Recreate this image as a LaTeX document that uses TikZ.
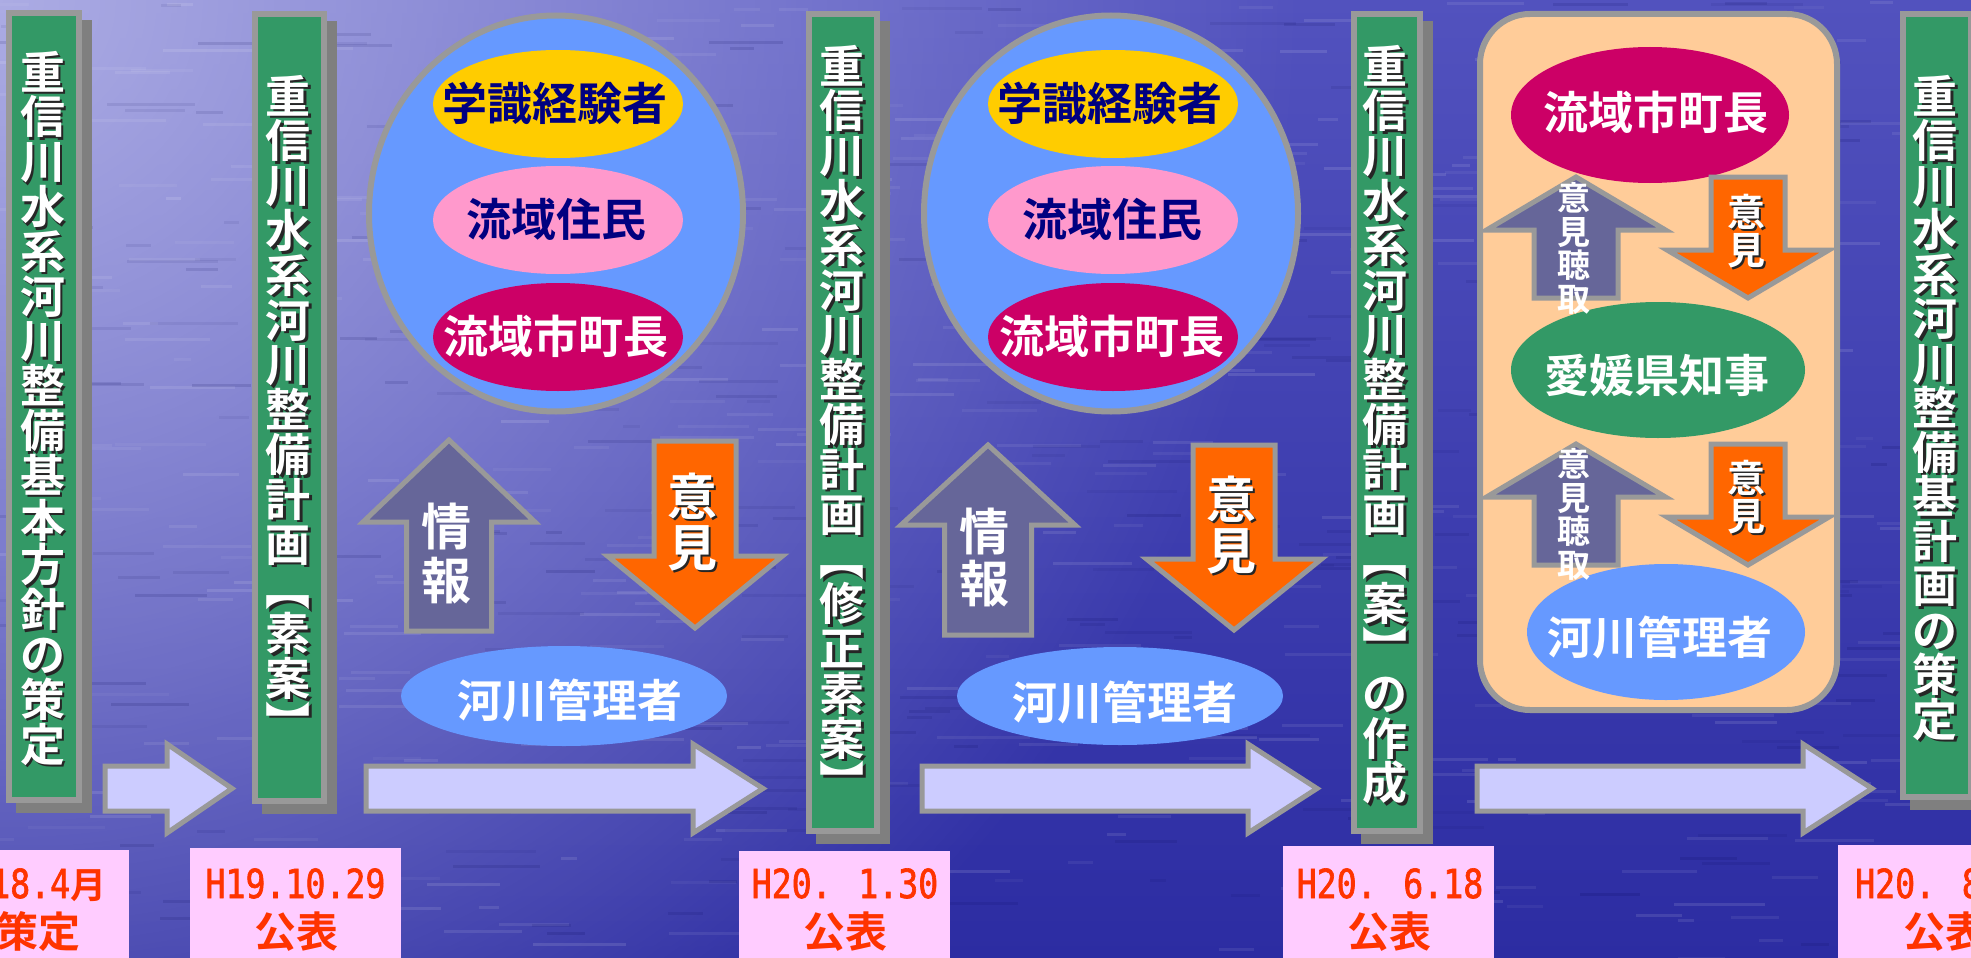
\documentclass[tikz,border=0pt]{standalone}
\usepackage{fontspec}
\newfontfamily\jp{Noto Sans CJK JP}[BoldFont={Noto Sans CJK JP Bold}]
\newfontfamily\monof{DejaVu Sans Mono}[FakeStretch=0.83,FakeBold=1.6]
\usetikzlibrary{shapes.geometric,fadings}

\definecolor{bggreen}{HTML}{339966}
\definecolor{bordergray}{HTML}{999999}
\definecolor{shadowgray}{HTML}{7F7F7F}
\definecolor{skyblue}{HTML}{6699FF}
\definecolor{goldc}{HTML}{FFCC00}
\definecolor{pinkc}{HTML}{FF99CC}
\definecolor{magentac}{HTML}{CC0066}
\definecolor{navyc}{HTML}{000080}
\definecolor{slatec}{HTML}{666699}
\definecolor{orangec}{HTML}{FF6600}
\definecolor{lavenderc}{HTML}{CCCCFF}
\definecolor{pinkbox}{HTML}{FFCCFF}
\definecolor{redtext}{HTML}{FF3300}
\definecolor{peachc}{HTML}{FFCC99}
\definecolor{bgtop}{HTML}{5252BE}
\definecolor{bgbot}{HTML}{2C2CA2}
\definecolor{bglight}{HTML}{ACACE4}

\tikzfading[name=tlfade, inner color=transparent!0, outer color=transparent!100]

\newcommand\jpb[1]{\jp\bfseries\fontsize{#1}{#1}\selectfont}

% vertical text: #1 name, #2 x, #3 y of first char centre, #4 pitch, #5 size, #6 shadow (1/0), #7 chars
\newcommand\vtxt[7]{%
  \foreach \ch [count=\i] in {#7}{%
    \ifnum#6=1
      \node[anchor=base, inner sep=0pt, text=black!85, font=\jpb{#5}] (#1s\i) at ({#2+2.5},{#3+(\i-1)*#4+0.38*#5+2.5}) {\ch};
    \fi
    \node[anchor=base, inner sep=0pt, text=white, font=\jpb{#5}] (#1c\i) at ({#2},{#3+(\i-1)*#4+0.38*#5}) {\ch};
  }}

% vertical block arrow: #1 style, #2 xc, #3 tip y, #4 head base y, #5 head half width, #6 shaft half width, #7 tail y
\newcommand\blockv[7]{%
  \draw[#1] (#2,#3) -- ({#2+#5},#4) -- ({#2+#6},#4) -- ({#2+#6},#7) -- ({#2-#6},#7) -- ({#2-#6},#4) -- ({#2-#5},#4) -- cycle;}

% horizontal block arrow: #1 style, #2 tail x, #3 head base x, #4 tip x, #5 shaft top, #6 shaft bottom, #7 head top, #8 head bottom
\newcommand\blockh[8]{%
  \draw[#1] (#2,#5) -- (#3,#5) -- (#3,#7) -- (#4,{(#7+#8)/2}) -- (#3,#8) -- (#3,#6) -- (#2,#6) -- cycle;}

\begin{document}
\begin{tikzpicture}[x=1pt,y=-1pt,
  barbox/.style={fill=bggreen, draw=bordergray, line width=6pt, inner sep=0pt},
  barshade/.style={fill=shadowgray, inner sep=0pt},
  harr/.style={fill=lavenderc, draw=bordergray, line width=5pt, line join=miter},
  uparr/.style={fill=slatec, draw=bordergray, line width=5pt, line join=miter},
  dnarr/.style={fill=orangec, draw=bordergray, line width=5pt, line join=miter},
  bigcirc/.style={ellipse, fill=skyblue, draw=bordergray, line width=6pt, inner sep=0pt},
  oval/.style={ellipse, inner sep=0pt},
  navytxt/.style={anchor=base, inner sep=0pt, text=navyc, font=\jpb{45}},
  whitetxt/.style={anchor=base, inner sep=0pt, text=white, font=\jpb{45}},
  datebox/.style={fill=pinkbox, inner sep=0pt},
  datetxt/.style={inner sep=0pt, text=redtext, font=\monof\fontsize{40}{40}\selectfont},
  datelbl/.style={anchor=base, inner sep=0pt, text=redtext, font=\jpb{42}}
]
\useasboundingbox (0,0) rectangle (1971,958);
\clip (0,0) rectangle (1971,958);

% ---------- background ----------
\shade[top color=bgtop, bottom color=bgbot] (0,0) rectangle (1971,958);
\fill[bglight, path fading=tlfade] (0,0) circle (1300);
\pgfmathsetseed{11}
\foreach \k in {1,...,420}{
  \pgfmathsetmacro\xx{rnd*2000-30}
  \pgfmathsetmacro\yy{rnd*958}
  \pgfmathsetmacro\ww{15+rnd*80}
  \pgfmathsetmacro\op{0.04+0.08*rnd}
  \fill[white, opacity=\op] (\xx,\yy) rectangle ++(\ww,3);
}
\foreach \k in {1,...,300}{
  \pgfmathsetmacro\xx{rnd*2000-30}
  \pgfmathsetmacro\yy{rnd*958}
  \pgfmathsetmacro\ww{15+rnd*80}
  \pgfmathsetmacro\op{0.05+0.08*rnd}
  \fill[black!70!blue, opacity=\op] (\xx,\yy) rectangle ++(\ww,3);
}

% ---------- vertical bars ----------
\node[barshade, minimum width=76, minimum height=793] (b1sh) at (54,416.5) {};
\node[barbox, minimum width=70, minimum height=787] (b1) at (44,406.5) {};
\node[barshade, minimum width=75, minimum height=793] (b2sh) at (299.5,417.5) {};
\node[barbox, minimum width=69, minimum height=787] (b2) at (289.5,407.5) {};
\node[barshade, minimum width=74, minimum height=823] (b3sh) at (853,432.5) {};
\node[barbox, minimum width=68, minimum height=817] (b3) at (843,422.5) {};
\node[barshade, minimum width=72, minimum height=823] (b4sh) at (1397,432.5) {};
\node[barbox, minimum width=66, minimum height=817] (b4) at (1387,422.5) {};
\node[barshade, minimum width=74, minimum height=789] (b5sh) at (1947,415.5) {};
\node[barbox, minimum width=68, minimum height=783] (b5) at (1937,405.5) {};

\vtxt{t1}{43}{72}{44.8}{45}{1}{重,信,川,水,系,河,川,整,備,基,本,方,針,の,策,定}
\vtxt{t2}{288}{96}{44.8}{45}{1}{重,信,川,水,系,河,川,整,備,計,画,︻,素,案,︼}
\vtxt{t3}{842}{66}{44.8}{45}{1}{重,信,川,水,系,河,川,整,備,計,画,︻,修,正,素,案,︼}
\vtxt{t4}{1385}{66}{44.8}{45}{1}{重,信,川,水,系,河,川,整,備,計,画,︻,案,︼,の,作,成}
\vtxt{t5}{1935}{96}{44.5}{45}{1}{重,信,川,水,系,河,川,整,備,基,計,画,の,策,定}

% ---------- horizontal progress arrows ----------
\blockh{harr}{105}{167}{232}{766}{811}{744}{833}
\blockh{harr}{366}{693}{763}{766}{811}{744}{833}
\blockh{harr}{922}{1248}{1317}{766}{811}{744}{833}
\blockh{harr}{1477}{1803}{1872}{766}{811}{744}{833}

% ---------- group 1 ----------
\node[bigcirc, minimum width=374, minimum height=396] (c1) at (556,213.5) {};
\node[oval, fill=goldc, minimum width=250, minimum height=108] (c1a) at (558,104) {};
\node[oval, fill=pinkc, minimum width=250, minimum height=108] (c1b) at (558,220) {};
\node[oval, fill=magentac, minimum width=250, minimum height=108] (c1c) at (558,337) {};
\node[navytxt] (c1at) at (555,120) {学識経験者};
\node[navytxt] (c1bt) at (556,236) {流域住民};
\node[whitetxt] (c1ct) at (556,353) {流域市町長};

\blockv{uparr}{449}{440}{522}{86}{42.5}{631}
\vtxt{u1}{446}{526}{54}{50}{0}{情,報}
\blockv{dnarr}{695}{628}{556}{87.5}{41}{441}
\vtxt{d1}{692}{496}{51}{50}{1}{意,見}

\node[oval, fill=skyblue, minimum width=326, minimum height=100] (m1) at (564,696) {};
\node[whitetxt] (m1t) at (570,717) {河川管理者};

% ---------- group 2 ----------
\node[bigcirc, minimum width=374, minimum height=396] (c2) at (1111,213.5) {};
\node[oval, fill=goldc, minimum width=250, minimum height=108] (c2a) at (1113,104) {};
\node[oval, fill=pinkc, minimum width=250, minimum height=108] (c2b) at (1113,220) {};
\node[oval, fill=magentac, minimum width=250, minimum height=108] (c2c) at (1113,337) {};
\node[navytxt] (c2at) at (1110,120) {学識経験者};
\node[navytxt] (c2bt) at (1112,236) {流域住民};
\node[whitetxt] (c2ct) at (1112,353) {流域市町長};

\blockv{uparr}{988}{445}{525}{87}{43.5}{635}
\vtxt{u2}{984}{531}{52}{50}{0}{情,報}
\blockv{dnarr}{1234}{630}{559}{87.5}{41}{445}
\vtxt{d2}{1231}{499}{51}{50}{1}{意,見}

\node[oval, fill=skyblue, minimum width=326, minimum height=98] (m2) at (1120,696) {};
\node[whitetxt] (m2t) at (1125,719) {河川管理者};

% ---------- group 3 (panel) ----------
\node[fill=peachc, draw=bordergray, line width=6pt, rounded corners=50pt, minimum width=357, minimum height=696, inner sep=0pt] (panel) at (1658.5,362) {};
\node[oval, fill=magentac, minimum width=278, minimum height=136] (p1) at (1650,115) {};
\node[whitetxt] (p1t) at (1656,129) {流域市町長};
\node[oval, fill=bggreen, minimum width=294, minimum height=136] (p2) at (1658,370) {};
\node[whitetxt] (p2t) at (1657,392) {愛媛県知事};
\node[oval, fill=skyblue, minimum width=278, minimum height=136] (p3) at (1666,632) {};
\node[whitetxt] (p3t) at (1660,654) {河川管理者};

\blockv{uparr}{1576}{177}{230}{89.5}{42}{298}
\vtxt{pu1}{1574}{198}{33.7}{33}{0}{意,見,聴,取}
\blockv{dnarr}{1748}{298}{250}{81}{37}{177}
\vtxt{pd1}{1746}{212}{38}{38}{1}{意,見}
\blockv{uparr}{1576}{444}{497}{89.5}{42}{565}
\vtxt{pu2}{1574}{464}{33.7}{33}{0}{意,見,聴,取}
\blockv{dnarr}{1748}{565}{517}{81}{37}{444}
\vtxt{pd2}{1746}{478}{38}{38}{1}{意,見}

% ---------- date boxes ----------
\node[datebox, minimum width=149, minimum height=120] (db1) at (54.5,910) {};
\node[datebox, minimum width=211, minimum height=122] (db2) at (295.5,909) {};
\node[datebox, minimum width=211, minimum height=119] (db3) at (844.5,910.5) {};
\node[datebox, minimum width=211, minimum height=124] (db4) at (1388.5,908) {};
\node[datebox, minimum width=172, minimum height=125] (db5) at (1924,907.5) {};

\node[datetxt, anchor=base west] (dt1) at (-10,898) {18.4{\jpb{36}月}};
\node[datelbl] (dl1) at (39,947) {策定};
\node[datetxt, anchor=base] (dt2) at (295.5,898) {H19.10.29};
\node[datelbl] (dl2) at (296,947) {公表};
\node[datetxt, anchor=base] (dt3) at (845,898) {H20. 1.30};
\node[datelbl] (dl3) at (845,947) {公表};
\node[datetxt, anchor=base] (dt4) at (1390,898) {H20. 6.18};
\node[datelbl] (dl4) at (1389,947) {公表};
\node[datetxt, anchor=base west] (dt5) at (1855,898) {H20. 8};
\node[datelbl] (dl5) at (1945,947) {公表};
\end{tikzpicture}
\end{document}
